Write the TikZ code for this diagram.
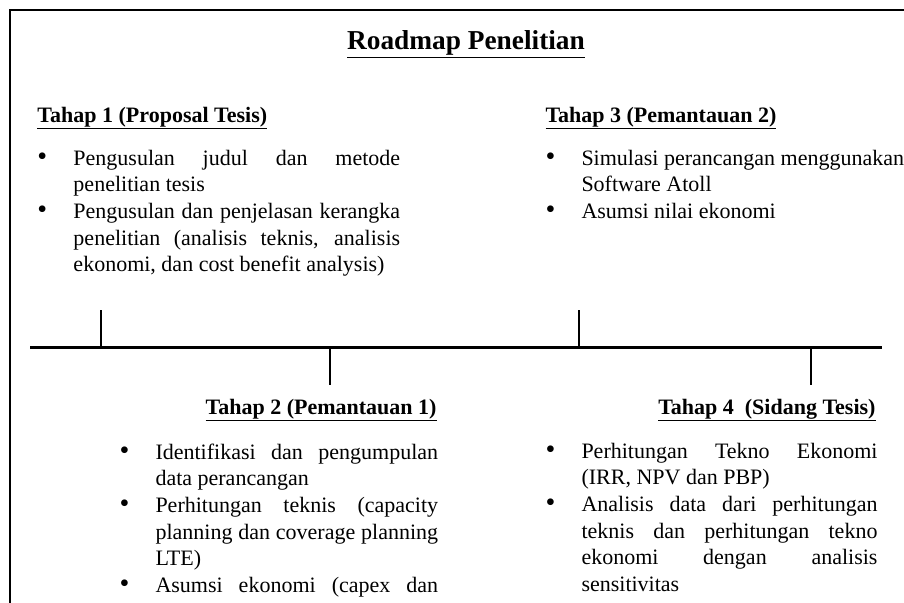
\documentclass[tikz,border=0pt]{standalone}
\usepackage{fontspec}
\setmainfont{Liberation Serif}
\tikzset{every picture/.style={line width=0.75pt}}
\newcommand{\rata}[2]{\makebox[#1][s]{#2}}
\newcommand{\titik}{{\fontsize{21}{20}\selectfont\textbullet}}

\begin{document}
\begin{tikzpicture}[x=0.75pt,y=0.75pt,yscale=-1,xscale=1,
  teks/.style={inner sep=0pt,font=\fontsize{16.5}{20}\selectfont},
  tahap/.style={inner sep=0pt,font=\fontsize{16.5}{20}\selectfont\bfseries}]
\useasboundingbox (0,0) rectangle (904,603);
\clip (0,0) rectangle (904,603);

%Shape: Frame
\draw [line width=1.1] (10,610) -- (10,10) -- (910,10) ;
%Straight Lines: timeline
\coordinate (awal) at (30,347) ;
\coordinate (akhir) at (882,347) ;
\draw [line width=2.25] (awal) -- (akhir) ;
%Straight Lines: ticks
\coordinate (t1) at (101,347) ;
\coordinate (t2) at (330,347) ;
\coordinate (t3) at (579,347) ;
\coordinate (t4) at (811,347) ;
\draw [line width=1.1] (t1) -- ++(0,-37) ;
\draw [line width=1.1] (t2) -- ++(0,38) ;
\draw [line width=1.1] (t3) -- ++(0,-37) ;
\draw [line width=1.1] (t4) -- ++(0,38) ;

% Text Node
\node [inner sep=0pt,anchor=base,font=\fontsize{20.5}{24}\selectfont\bfseries] (judul) at (466,50) {\underline{Roadmap Penelitian}};
% Text Node
\node [tahap,anchor=base west] (tahap1) at (37,122) {\underline{Tahap 1 (Proposal Tesis)}};
% Text Node
\node [tahap,anchor=base west] (tahap3) at (545,122) {\underline{Tahap 3 (Pemantauan 2)}};
% Text Node
\node [tahap,anchor=base east] (tahap2) at (437,414) {\underline{Tahap 2 (Pemantauan 1)}};
% Text Node
\node [tahap,anchor=base east] (tahap4) at (876,414) {\underline{Tahap 4\ \ (Sidang Tesis)}};
% Text Node
\node [teks,anchor=base west] (isi1) at (37,165) {\begin{tabular}[t]{@{}p{27pt}@{}l@{}}
\titik & \rata{245pt}{Pengusulan judul dan metode}\\
 & penelitian tesis\\
\titik & \rata{245pt}{Pengusulan dan penjelasan kerangka}\\
 & \rata{245pt}{penelitian (analisis teknis, analisis}\\
 & ekonomi, dan cost benefit analysis)
\end{tabular}};
% Text Node
\node [teks,anchor=base west] (isi3) at (545,165) {\begin{tabular}[t]{@{}p{27pt}@{}l@{}}
\titik & Simulasi perancangan menggunakan\\
 & Software Atoll\\
\titik & Asumsi nilai ekonomi
\end{tabular}};
% Text Node
\node [teks,anchor=base west] (isi2) at (119,459) {\begin{tabular}[t]{@{}p{27pt}@{}l@{}}
\titik & \rata{212pt}{Identifikasi dan pengumpulan}\\
 & data perancangan\\
\titik & \rata{212pt}{Perhitungan teknis (capacity}\\
 & \rata{212pt}{planning dan coverage planning}\\
 & LTE)\\
\titik & \rata{212pt}{Asumsi ekonomi (capex dan}
\end{tabular}};
% Text Node
\node [teks,anchor=base west] (isi4) at (545,458) {\begin{tabular}[t]{@{}p{27pt}@{}l@{}}
\titik & \rata{222pt}{Perhitungan Tekno Ekonomi}\\
 & (IRR, NPV dan PBP)\\
\titik & \rata{222pt}{Analisis data dari perhitungan}\\
 & \rata{222pt}{teknis dan perhitungan tekno}\\
 & \rata{222pt}{ekonomi dengan analisis}\\
 & sensitivitas
\end{tabular}};
\end{tikzpicture}
\end{document}
